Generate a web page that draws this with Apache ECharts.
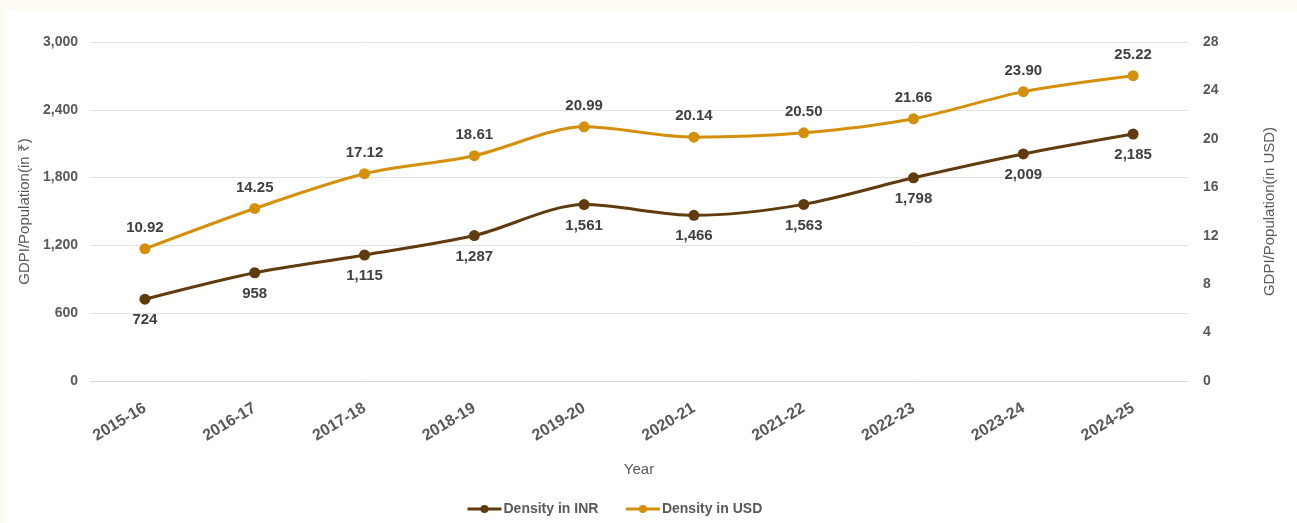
<!DOCTYPE html>
<html>
<head>
<meta charset="utf-8">
<script src="https://cdn.jsdelivr.net/npm/echarts@6/dist/echarts.min.js"></script>
<style>
  html, body { margin: 0; padding: 0; background: #fdfbf3; }
  #main { position: absolute; left: 5px; top: 10px; width: 1292px; height: 513px; background: #fff; }
</style>
</head>
<body>
<div id="main"></div>
<script>
// values
const years = ['2015-16', '2016-17', '2017-18', '2018-19', '2019-20', '2020-21', '2021-22', '2022-23', '2023-24', '2024-25'];
const densityINR = [724, 958, 1115, 1287, 1561, 1466, 1563, 1798, 2009, 2185];
const densityUSD = [10.92, 14.25, 17.12, 18.61, 20.99, 20.14, 20.50, 21.66, 23.90, 25.22];

const colors = ['#5f3b0d', '#d48f0b'];
const font = 'Liberation Sans, Arial, sans-serif';

const chart = echarts.init(document.getElementById('main'));

const option = {
  color: colors,
  textStyle: { fontFamily: font },
  animation: false,
  grid: { left: 85, right: 109, top: 32, bottom: 142 },
  legend: {
    left: 456,
    bottom: 2,
    itemWidth: 34,
    itemHeight: 10,
    itemGap: 26,
    lineStyle: { width: 3 },
    textStyle: { fontFamily: font, fontSize: 14, fontWeight: 'bold', color: '#595959', padding: [0, 0, 0, -3] },
    data: ['Density in INR', 'Density in USD']
  },
  xAxis: {
    type: 'category',
    data: years,
    name: 'Year',
    nameLocation: 'middle',
    nameGap: 81,
    nameTextStyle: { fontFamily: font, fontSize: 15, color: '#595959' },
    axisLine: { lineStyle: { color: '#d9d9d9' } },
    axisTick: { show: false },
    axisLabel: { rotate: 31, margin: 26, fontSize: 16, fontWeight: 'bold', color: '#595959', fontFamily: font }
  },
  yAxis: [
    {
      type: 'value',
      min: 0,
      max: 3000,
      interval: 600,
      name: 'GDPI/Population(in ₹)',
      nameLocation: 'middle',
      nameGap: 39,
      nameTextStyle: { fontFamily: font, fontSize: 15, color: '#595959' },
      axisLine: { show: false },
      axisTick: { show: false },
      axisLabel: {
        margin: 12, fontSize: 14, fontWeight: 'bold', color: '#595959', fontFamily: font,
        formatter: v => v.toLocaleString('en-US')
      },
      splitLine: { lineStyle: { color: '#e3e3e3' } }
    },
    {
      type: 'value',
      min: 0,
      max: 28,
      interval: 4,
      name: 'GDPI/Population(in USD)',
      nameLocation: 'middle',
      nameGap: 74,
      nameRotate: 90,
      nameTextStyle: { fontFamily: font, fontSize: 15, color: '#595959' },
      axisLine: { show: false },
      axisTick: { show: false },
      axisLabel: { margin: 15, fontSize: 14, fontWeight: 'bold', color: '#595959', fontFamily: font },
      splitLine: { show: false }
    }
  ],
  series: [
    {
      name: 'Density in INR',
      type: 'line',
      yAxisIndex: 0,
      data: densityINR,
      smooth: 0.3,
      symbol: 'circle',
      symbolSize: 11,
      lineStyle: { width: 3 },
      label: {
        show: true,
        position: 'bottom',
        distance: 8,
        fontSize: 15,
        fontWeight: 'bold',
        color: '#404040',
        fontFamily: font,
        formatter: p => p.value.toLocaleString('en-US')
      }
    },
    {
      name: 'Density in USD',
      type: 'line',
      yAxisIndex: 1,
      data: densityUSD,
      smooth: 0.3,
      symbol: 'circle',
      symbolSize: 11,
      lineStyle: { width: 3 },
      label: {
        show: true,
        position: 'top',
        distance: 8,
        fontSize: 15,
        fontWeight: 'bold',
        color: '#404040',
        fontFamily: font,
        formatter: p => p.value.toFixed(2)
      }
    }
  ]
};

chart.setOption(option);
</script>
</body>
</html>
